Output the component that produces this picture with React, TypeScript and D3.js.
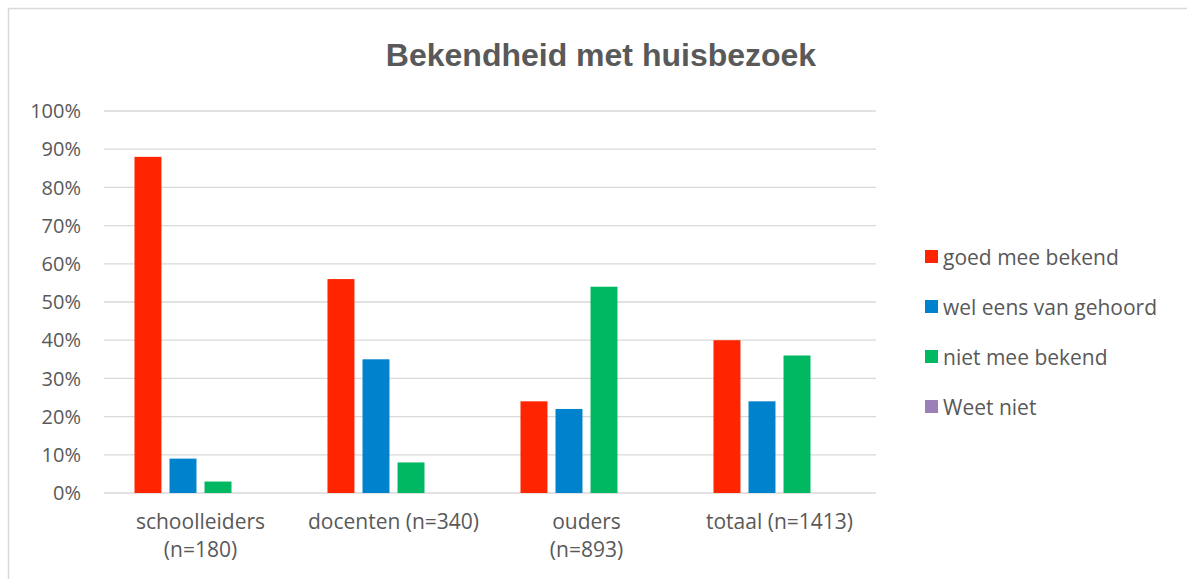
import { useEffect, useRef } from 'react';
import * as d3 from 'd3';

const categories = ['schoolleiders (n=180)', 'docenten (n=340)', 'ouders (n=893)', 'totaal (n=1413)'];
const categoryLines = [
  ['schoolleiders', '(n=180)'],
  ['docenten (n=340)'],
  ['ouders', '(n=893)'],
  ['totaal (n=1413)'],
];
const seriesNames = ['goed mee bekend', 'wel eens van gehoord', 'niet mee bekend', 'Weet niet'];
const seriesColors = ['#FF2500', '#0082CC', '#00B862', '#9B7FB7'];
const goedMeeBekend = [88, 56, 24, 40];
const welEensVanGehoord = [9, 35, 22, 24];
const nietMeeBekend = [3, 8, 54, 36];
const weetNiet = [0, 0, 0, 0];
const yTicks = [0, 10, 20, 30, 40, 50, 60, 70, 80, 90, 100];

const seriesValues = [goedMeeBekend, welEensVanGehoord, nietMeeBekend, weetNiet];

export default function App() {
  const svgRef = useRef<SVGSVGElement>(null);

  useEffect(() => {
    document.body.style.margin = '0';
    if (!svgRef.current) return;
    const svg = d3.select(svgRef.current);
    svg.selectAll('*').remove();

    const W = 1187;
    const H = 579;
    const font = "'Open Sans', 'Liberation Sans', sans-serif";
    const textColor = '#595959';

    // chart border (runs off the right and bottom edge)
    svg.append('rect')
      .attr('x', 8.5).attr('y', 8.5)
      .attr('width', W + 20).attr('height', H + 20)
      .attr('fill', '#fff')
      .attr('stroke', '#d9d9d9')
      .attr('stroke-width', 1.5);

    const plot = { left: 104, right: 876, top: 111, bottom: 493 };

    const x0 = d3.scaleBand<string>()
      .domain(categories)
      .range([plot.left, plot.right])
      .paddingInner(0.316)
      .paddingOuter(0.158);

    const x1 = d3.scaleBand<number>()
      .domain(d3.range(seriesNames.length))
      .range([0, x0.bandwidth()])
      .paddingInner(0.23)
      .paddingOuter(0);

    const y = d3.scaleLinear().domain([0, 100]).range([plot.bottom, plot.top]);

    // gridlines
    svg.append('g')
      .selectAll('line')
      .data(yTicks)
      .join('line')
      .attr('x1', plot.left)
      .attr('x2', plot.right)
      .attr('y1', d => y(d))
      .attr('y2', d => y(d))
      .attr('stroke', '#d9d9d9')
      .attr('stroke-width', 1.3);

    // y tick labels
    svg.append('g')
      .selectAll('text')
      .data(yTicks)
      .join('text')
      .attr('x', 81)
      .attr('y', d => y(d))
      .attr('dy', '0.36em')
      .attr('text-anchor', 'end')
      .attr('fill', textColor)
      .attr('font-family', font)
      .attr('font-size', '20px')
      .text(d => `${d}%`);

    // bars
    const groups = svg.append('g')
      .selectAll('g')
      .data(categories)
      .join('g')
      .attr('transform', d => `translate(${x0(d)},0)`);

    groups.selectAll('rect')
      .data((_, ci) => seriesValues.map((vals, si) => ({ si, v: vals[ci] })))
      .join('rect')
      .attr('x', d => x1(d.si) ?? 0)
      .attr('width', x1.bandwidth())
      .attr('y', d => y(d.v))
      .attr('height', d => y(0) - y(d.v))
      .attr('fill', d => seriesColors[d.si]);

    // x labels
    categories.forEach((c, i) => {
      const cx = (x0(c) ?? 0) + x0.bandwidth() / 2;
      categoryLines[i].forEach((line, li) => {
        svg.append('text')
          .attr('x', cx)
          .attr('y', 529 + li * 28)
          .attr('text-anchor', 'middle')
          .attr('fill', textColor)
          .attr('font-family', font)
          .attr('font-size', '21px')
          .text(line);
      });
    });

    // title
    svg.append('text')
      .attr('x', 601)
      .attr('y', 66)
      .attr('text-anchor', 'middle')
      .attr('fill', textColor)
      .attr('font-family', "'Liberation Sans', Arial, sans-serif")
      .attr('font-weight', 'bold')
      .attr('font-size', '32px')
      .text('Bekendheid met huisbezoek');

    // legend
    const legend = svg.append('g');
    seriesNames.forEach((name, i) => {
      const ly = 257 + i * 50;
      legend.append('rect')
        .attr('x', 925).attr('y', ly - 7)
        .attr('width', 13).attr('height', 13)
        .attr('fill', seriesColors[i]);
      legend.append('text')
        .attr('x', 943)
        .attr('y', ly)
        .attr('dy', '0.36em')
        .attr('fill', textColor)
        .attr('font-family', font)
        .attr('font-size', '21px')
        .text(name);
    });
  }, []);

  return <svg ref={svgRef} width={1187} height={579} style={{ display: 'block' }} />;
}
